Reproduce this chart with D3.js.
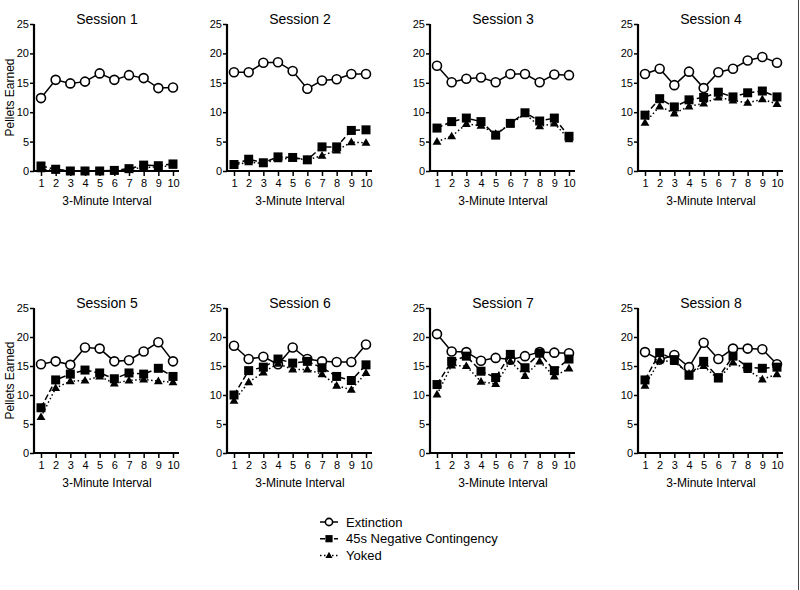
<!DOCTYPE html>
<html>
<head>
<meta charset="utf-8">
<script src="https://cdn.jsdelivr.net/npm/d3@7"></script>
<style>
  body { margin: 0; background: #fff; }
  svg { font-family: "Liberation Sans", Arial, sans-serif; display: block; }
</style>
</head>
<body>
<div id="chart"></div>
<script>
// Values
var sessions = ["Session 1", "Session 2", "Session 3", "Session 4",
                "Session 5", "Session 6", "Session 7", "Session 8"];
var intervals = [1, 2, 3, 4, 5, 6, 7, 8, 9, 10];
var yTicks = [0, 5, 10, 15, 20, 25];

var extinction = [
  [12.4, 15.5, 14.9, 15.2, 16.6, 15.5, 16.3, 15.8, 14.1, 14.2],
  [16.8, 16.8, 18.4, 18.5, 17.0, 14.0, 15.4, 15.6, 16.5, 16.5],
  [17.9, 15.1, 15.7, 15.9, 15.1, 16.5, 16.5, 15.1, 16.4, 16.3],
  [16.5, 17.4, 14.6, 16.9, 14.1, 16.8, 17.4, 18.8, 19.4, 18.4],
  [15.3, 15.8, 15.2, 18.2, 18.0, 15.8, 16.0, 17.5, 19.1, 15.8],
  [18.5, 16.2, 16.6, 15.3, 18.2, 16.2, 15.8, 15.7, 15.7, 18.7],
  [20.5, 17.5, 17.4, 15.9, 16.4, 16.1, 16.7, 17.4, 17.3, 17.2],
  [17.4, 16.1, 16.9, 14.8, 19.0, 16.2, 18.0, 18.0, 17.9, 15.3]
];
var negContingency = [
  [0.85, 0.3, 0.0, 0.0, 0.0, 0.1, 0.4, 1.0, 0.9, 1.2],
  [1.1, 2.0, 1.4, 2.4, 2.3, 1.9, 4.1, 4.1, 6.9, 7.0],
  [7.3, 8.4, 9.0, 8.4, 6.1, 8.1, 9.9, 8.5, 9.0, 5.9],
  [9.5, 12.3, 10.9, 12.1, 12.5, 13.4, 12.6, 13.3, 13.6, 12.6],
  [7.8, 12.6, 13.6, 14.3, 13.8, 12.8, 13.8, 13.6, 14.6, 13.2],
  [10.0, 14.2, 14.8, 16.2, 15.5, 15.8, 14.7, 13.2, 12.5, 15.2],
  [11.8, 15.8, 16.7, 14.1, 13.0, 17.0, 14.7, 17.2, 14.2, 16.2],
  [12.6, 17.3, 16.1, 13.4, 15.8, 13.0, 16.7, 14.8, 14.6, 14.8]
];
var yoked = [
  [0.3, 0.1, 0.0, 0.0, 0.0, 0.0, 0.3, 0.6, 0.7, 0.9],
  [1.0, 1.5, 1.3, 2.0, 2.2, 1.9, 2.6, 3.5, 4.9, 4.8],
  [5.0, 5.9, 8.0, 7.7, 6.3, 8.0, 9.7, 7.6, 8.1, 5.4],
  [8.2, 11.0, 9.8, 11.0, 11.5, 12.5, 12.0, 11.6, 12.2, 11.4],
  [6.2, 11.2, 12.4, 12.5, 13.2, 12.0, 12.5, 12.7, 12.4, 12.2],
  [9.0, 12.2, 13.9, 15.4, 14.4, 14.4, 13.6, 11.6, 10.9, 13.8],
  [10.1, 15.1, 15.0, 12.3, 11.9, 15.8, 13.3, 15.8, 13.2, 14.6],
  [11.6, 16.0, 15.7, 13.7, 15.0, 12.7, 15.6, 14.3, 12.7, 13.6]
];
var seriesNames = ["Extinction", "45s Negative Contingency", "Yoked"];

var width = 800, height = 590;
var colX = [34, 227, 430, 638];      // y-axis position for each column
var rowTop = [24, 308], rowBottom = [171, 453];
var axisLen = 145;
var fontFam = '"Liberation Sans", Arial, sans-serif';

var svg = d3.select("#chart").append("svg")
  .attr("width", width)
  .attr("height", height);

// thin frame line on the right edge of the picture
svg.append("line")
  .attr("x1", width - 1.5).attr("x2", width - 1.5)
  .attr("y1", 0).attr("y2", height)
  .attr("stroke", "#444").attr("stroke-width", 1);

var styles = [
  { dash: null, marker: "circle" },
  { dash: "6,3", marker: "square" },
  { dash: "1.5,2.5", marker: "triangle" }
];

function drawMarker(g, type, x, y, k) {
  k = k || 1;
  if (type === "circle") {
    g.append("circle").attr("cx", x).attr("cy", y).attr("r", 4.5 * k)
      .attr("fill", "#fff").attr("stroke", "#000").attr("stroke-width", 1.6);
  } else if (type === "square") {
    g.append("rect").attr("x", x - 4.5 * k).attr("y", y - 4.5 * k)
      .attr("width", 9 * k).attr("height", 9 * k).attr("fill", "#000");
  } else {
    g.append("path")
      .attr("d", d3.symbol().type(d3.symbolTriangle).size(34 * k * k)())
      .attr("transform", "translate(" + x + "," + (y + 0.5) + ")")
      .attr("fill", "#000");
  }
}

sessions.forEach(function(name, i) {
  var col = i % 4, row = Math.floor(i / 4);
  var x0 = colX[col];
  var x = d3.scaleLinear().domain([1, 10]).range([x0 + 7, x0 + 139]);
  var y = d3.scaleLinear().domain([0, 25]).range([rowBottom[row], rowTop[row]]);
  var g = svg.append("g");

  // Y axis
  var yAxis = g.append("g")
    .attr("transform", "translate(" + x0 + ",0)")
    .call(d3.axisLeft(y).tickValues(yTicks).tickSize(4).tickPadding(1));
  yAxis.attr("font-family", fontFam);
  yAxis.select(".domain").attr("stroke-width", 2.2).attr("d",
    "M0," + (rowTop[row]) + "V" + rowBottom[row]);
  yAxis.selectAll(".tick line").attr("stroke-width", 1.5);
  yAxis.selectAll("text").style("font-size", "11px").attr("fill", "#000");

  // X axis
  var xAxis = g.append("g")
    .attr("transform", "translate(0," + rowBottom[row] + ")")
    .call(d3.axisBottom(x).tickValues(intervals).tickFormat(d3.format("d"))
      .tickSize(5).tickPadding(3));
  xAxis.attr("font-family", fontFam);
  xAxis.select(".domain").attr("stroke-width", 2.2)
    .attr("d", "M" + x0 + ",0H" + (x0 + axisLen));
  xAxis.selectAll(".tick line").attr("stroke-width", 1.5);
  xAxis.selectAll("text").style("font-size", "11px").attr("fill", "#000");

  // Title
  g.append("text")
    .attr("x", x0 + 73).attr("y", rowTop[row])
    .attr("text-anchor", "middle")
    .style("font-size", "14px")
    .text(name);

  // X label
  g.append("text")
    .attr("x", x0 + 73).attr("y", rowBottom[row] + 34)
    .attr("text-anchor", "middle")
    .style("font-size", "12px")
    .text("3-Minute Interval");

  if (col === 0) {
    g.append("text")
      .attr("transform", "translate(14," + ((rowTop[row] + rowBottom[row]) / 2) + ") rotate(-90)")
      .attr("text-anchor", "middle")
      .style("font-size", "12px")
      .text("Pellets Earned");
  }

  var allSeries = [extinction[i], negContingency[i], yoked[i]];
  var order = [0, 2, 1];
  order.forEach(function(s) {
    var line = d3.line()
      .x(function(d, k) { return x(intervals[k]); })
      .y(function(d) { return y(d); });
    g.append("path")
      .datum(allSeries[s])
      .attr("fill", "none")
      .attr("stroke", "#000")
      .attr("stroke-width", 1.5)
      .attr("stroke-dasharray", styles[s].dash)
      .attr("d", line);
    allSeries[s].forEach(function(v, k) {
      drawMarker(g, styles[s].marker, x(intervals[k]), y(v));
    });
  });
});

// Legend
var legend = svg.append("g").attr("transform", "translate(320,522)");
seriesNames.forEach(function(name, s) {
  var ly = s * 16.7;
  legend.append("line")
    .attr("x1", 0).attr("x2", 18).attr("y1", ly).attr("y2", ly)
    .attr("stroke", "#000").attr("stroke-width", 1.5)
    .attr("stroke-dasharray", styles[s].dash === "6,3" ? "5,2" : styles[s].dash);
  drawMarker(legend, styles[s].marker, 9, ly, 0.8);
  legend.append("text")
    .attr("x", 26).attr("y", ly + 4.5)
    .style("font-size", "13px")
    .text(name);
});
</script>
</body>
</html>
